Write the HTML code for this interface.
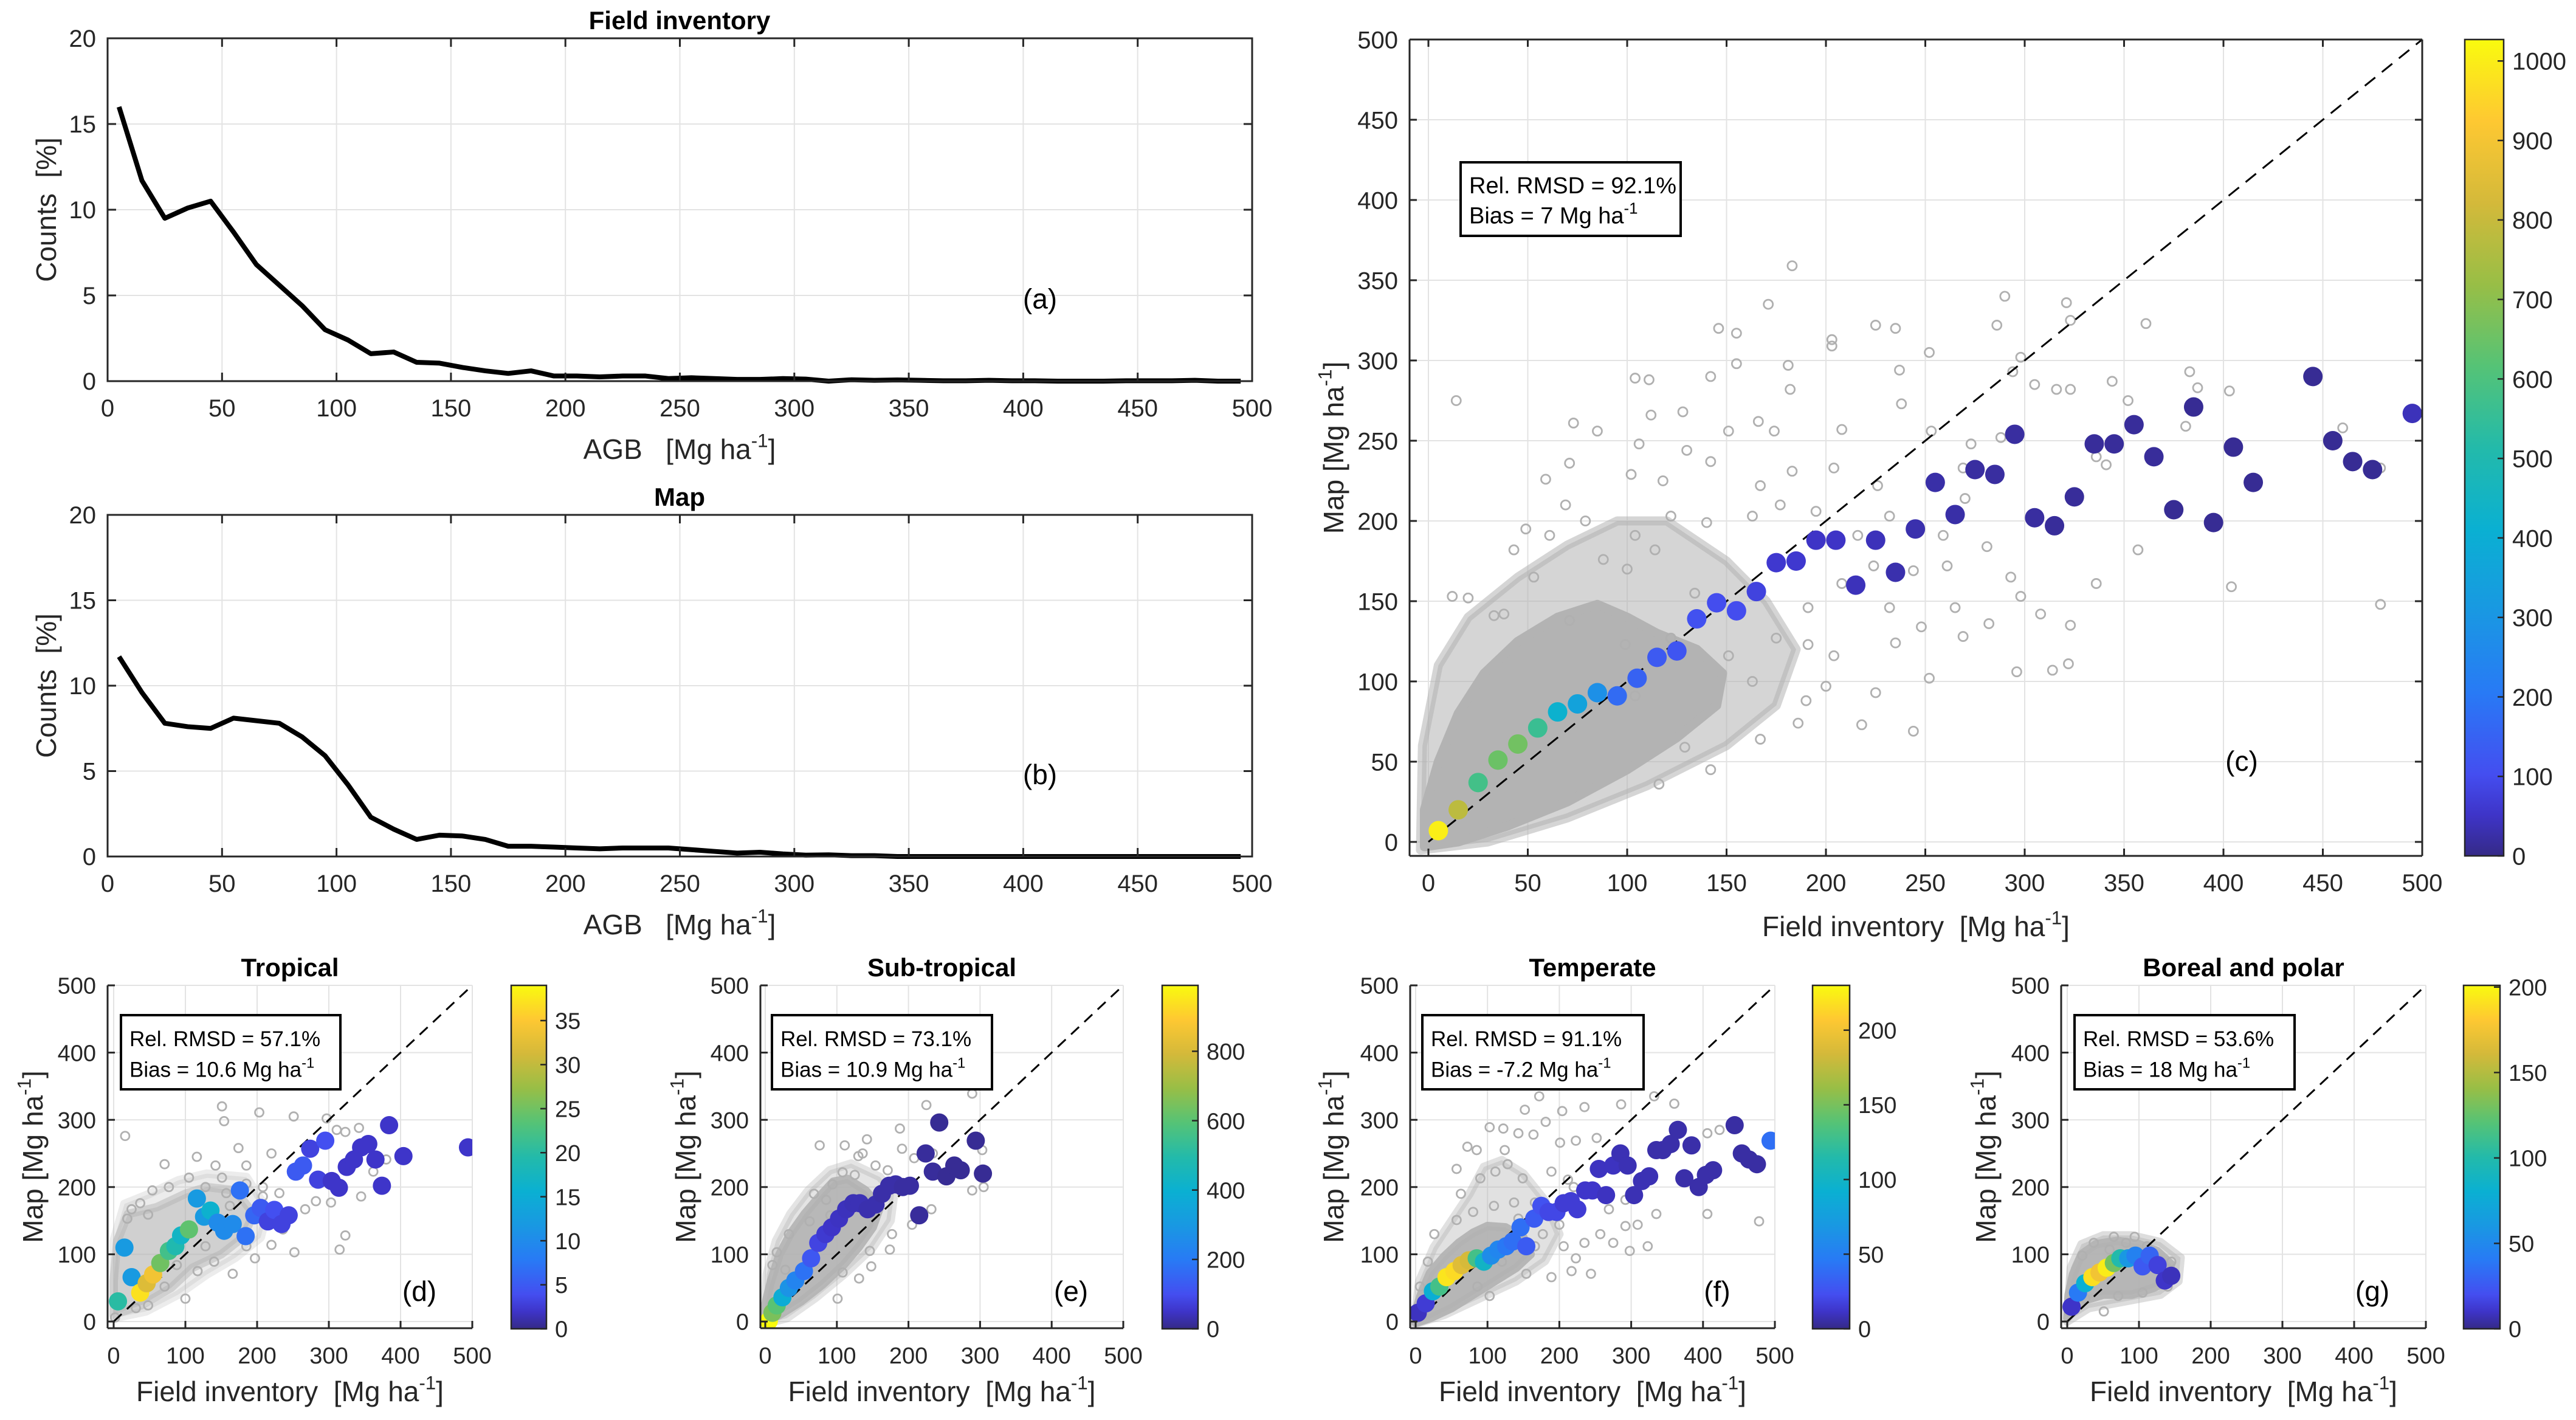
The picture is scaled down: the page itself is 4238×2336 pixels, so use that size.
<!DOCTYPE html>
<html><head><meta charset="utf-8"><title>AGB comparison</title>
<style>
html,body{margin:0;padding:0;background:#fff;}
svg{display:block;font-family:"Liberation Sans",sans-serif;}
</style></head>
<body>
<svg id="chart" xmlns="http://www.w3.org/2000/svg" width="4238" height="2336" viewBox="0 0 4238 2336"></svg>
<script>
// ---------- data ----------
const histBins = [5,15,25,35,45,55,65,75,85,95,105,115,125,135,145,155,165,175,185,195,205,215,225,235,245,255,265,275,285,295,305,315,325,335,345,355,365,375,385,395,405,415,425,435,445,455,465,475,485,495];
const histField = [16,11.7,9.5,10.1,10.5,8.7,6.8,5.6,4.4,3.0,2.4,1.6,1.7,1.1,1.05,0.8,0.6,0.45,0.6,0.3,0.3,0.25,0.3,0.3,0.15,0.2,0.15,0.1,0.1,0.15,0.12,0,0.08,0.05,0.07,0.05,0.02,0.02,0.05,0.02,0.02,0,0,0,0.02,0.02,0.02,0.05,0,0];
const histMap = [11.7,9.6,7.8,7.6,7.5,8.1,7.95,7.8,7.0,5.9,4.2,2.3,1.6,1.0,1.25,1.2,1.0,0.6,0.6,0.55,0.5,0.45,0.5,0.5,0.5,0.4,0.3,0.2,0.25,0.15,0.08,0.1,0.05,0.05,0,0,0,0,0,0,0,0,0,0,0,0,0,0,0,0];
const histYTicks = [0,5,10,15,20];
const histXTicks = [0,50,100,150,200,250,300,350,400,450,500];

const cX = [5,15,25,35,45,55,65,75,85,95,105,115,125,135,145,155,165,175,185,195,205,215,225,235,245,255,265,275,285,295,305,315,325,335,345,355,365,375,385,395,405,415,445,455,465,475,495];
const cY = [7,20,37,51,61,71,81,86,93,91,102,115,119,139,149,144,156,174,175,188,188,160,188,168,195,224,204,232,229,254,202,197,215,248,248,260,240,207,271,199,246,224,290,250,237,232,267];
const cN = [1000,780,580,650,660,560,420,350,280,170,150,130,120,110,100,100,80,60,60,50,50,40,40,30,30,25,25,20,20,20,20,15,15,15,15,15,15,10,10,10,10,10,10,10,10,10,40];
const cCloud = [183,359,171,335,290,340,321,336,323,325,286,322,225,322,235,320,361,323,146,320,155,317,203,313,203,309,252,305,298,302,155,298,181,297,142,290,104,289,111,288,14,275,383,293,294,293,182,282,237,294,238,273,305,285,316,282,323,282,344,287,352,275,387,283,403,281,460,258,381,259,59,226,73,261,85,256,71,236,112,266,128,268,151,256,166,262,174,256,208,257,253,256,269,233,273,248,288,252,336,240,341,235,405,247,479,233,404,159,479,148,357,182,336,161,323,135,322,111,314,107,308,142,296,106,298,153,282,136,269,128,252,102,244,69,235,124,225,93,218,73,200,97,190,88,186,74,167,64,142,45,129,59,116,36,106,100,33,141,12,153,20,152,38,142,71,138,99,123,104,91,163,100,151,116,122,127,134,155,114,182,100,170,88,176,53,165,79,200,104,191,122,203,140,199,163,203,177,210,195,206,216,191,232,203,244,195,259,191,270,214,226,222,204,233,183,231,167,222,142,237,130,244,102,229,106,248,118,225,69,210,49,195,43,182,61,191,175,127,191,146,208,161,224,172,244,169,261,172,281,184,293,165,232,146,204,116,265,146,248,134,191,123];
const cDense = [-2,-3,15,0,40,10,70,25,100,45,125,65,145,85,148,105,135,120,115,130,100,140,85,148,65,140,45,125,28,105,15,80,5,50,-2,20];
const cMid = [-4,-5,30,0,70,15,110,35,150,60,175,85,185,120,170,150,150,175,120,200,95,200,70,185,45,165,20,140,5,110,-3,60];

const dX = [6,15,25,37,46,55,65,77,86,94,105,116,126,135,145,154,166,176,184,196,205,215,224,234,244,254,264,274,285,295,304,314,325,335,345,355,365,374,384,404,494];
const dY = [30,110,66,43,57,70,87,105,112,128,137,183,156,165,147,135,145,195,127,158,169,149,166,145,158,223,232,257,211,269,209,199,230,241,259,264,241,202,292,246,259];
const dN = [20,12,12,37,32,34,25,22,19,17,24,12,12,16,10,10,10,7,7,6,5,3,4,3,3,5,5,3,3,4,2,2,2,2,2,2,2,2,2,2,2];
const dCloud = [151,320,154,298,203,311,251,305,297,302,174,258,71,234,116,245,142,232,185,232,220,250,311,285,323,282,342,288,16,276,323,128,315,107,252,103,166,71,100,34,220,114,236,137,267,167,282,179,303,177,345,186,362,223,380,241,231,191,208,200,185,205,151,214,128,200,105,214,77,200,54,195,25,167,19,153,37,176,48,159,162,172,157,191,208,186,185,112,140,89,117,75,71,52,48,24,31,20,2,6,197,94,128,112,88,84];
const dDense = [0,10,40,25,80,50,110,80,150,100,180,125,195,160,170,195,130,200,100,190,60,170,20,160,5,120,0,60];
const dMid = [0,5,45,15,90,40,130,70,170,95,205,125,215,165,185,215,130,220,90,210,50,190,15,175,0,120];

const eX = [5,10,16,24,33,42,54,64,74,84,93,103,113,123,132,143,154,163,173,182,192,202,215,224,234,243,253,264,273,294,304];
const eY = [1,13,24,36,50,61,75,94,117,130,140,153,167,176,176,167,174,190,202,204,200,202,158,250,223,296,216,232,225,269,220];
const eN = [990,650,600,380,280,230,180,120,80,60,50,45,40,35,35,30,30,25,25,25,20,20,15,15,15,10,10,10,10,10,10];
const eCloud = [289,339,225,322,76,262,111,262,142,271,130,246,136,250,188,287,191,257,208,243,234,250,303,255,305,200,289,195,232,167,205,144,177,130,174,107,146,105,131,64,101,34,108,73,148,82,85,181,68,190,94,204,108,222,125,218,154,232,171,225,91,158,62,149,33,130,16,103,10,84,28,77];
const eDense = [0,-2,20,10,50,30,80,55,110,85,130,110,150,140,160,170,140,195,115,212,95,208,75,185,55,160,35,130,20,100,8,60,0,25];
const eMid = [-2,-4,30,5,70,35,110,70,150,110,175,150,180,190,160,215,120,235,90,225,60,195,35,160,15,120,2,70];

const fX = [3,14,24,33,43,54,64,74,85,95,105,115,126,135,146,154,165,175,185,196,206,216,225,236,246,255,265,275,285,295,304,315,325,335,344,355,365,374,384,394,404,414,444,454,464,475,494];
const fY = [13,27,45,52,66,75,84,91,94,89,98,107,112,119,140,112,153,172,163,163,176,179,167,195,195,227,188,232,250,232,188,209,216,255,255,264,285,213,262,200,218,225,292,250,241,234,269];
const fN = [10,15,90,130,220,215,190,185,130,100,60,55,45,40,40,30,30,25,20,20,15,15,15,12,12,10,10,10,8,8,8,8,8,6,6,6,6,6,6,6,6,6,5,5,5,5,40];
const fCloud = [172,335,152,315,204,313,235,319,286,323,332,335,360,324,103,289,122,287,143,280,164,278,181,297,201,266,223,269,252,273,72,260,85,255,124,255,128,234,111,223,90,213,63,190,57,227,149,213,189,223,212,211,220,200,269,167,292,181,335,160,292,142,309,144,323,112,298,105,223,94,217,75,244,71,189,66,154,71,86,52,103,38,406,160,478,149,423,285,406,280,26,130,17,89,6,52,57,151,80,163,109,172,137,177,166,177,143,153,177,130,200,144,166,112,206,112,120,89,235,117,257,130,275,117];
const fDense = [0,-2,20,5,50,20,80,40,110,60,140,80,160,100,150,125,125,140,100,142,80,132,60,117,40,97,20,72,8,42,0,15];
const fMid = [-2,-4,40,10,90,35,140,60,180,90,200,130,180,180,150,220,120,240,95,230,75,190,50,150,25,110,5,60];

const gX = [6,15,25,35,45,55,65,74,85,95,105,115,126,136,145];
const gY = [22,43,57,66,73,80,87,94,94,98,82,98,84,61,68];
const gN = [10,40,80,190,175,195,130,100,60,45,25,30,15,10,8];
const gCloud = [94,126,65,126,37,117,21,98,51,15,128,89,145,89,111,112,140,52,105,43,71,38,25,34,2,15,59,107,82,117];
const gDense = [0,5,20,30,50,40,90,40,120,50,140,60,145,85,125,105,100,115,70,120,40,115,20,100,8,70,2,40];
const gMid = [0,0,30,20,80,30,130,40,155,60,158,95,130,118,90,128,50,128,20,115,5,80];

const cTicks = [0,100,200,300,400,500,600,700,800,900,1000];
const dTicks = [0,5,10,15,20,25,30,35];
const eTicks = [0,200,400,600,800];
const fTicks = [0,50,100,150,200];
const gTicks = [0,50,100,150,200];

// ---------- helpers ----------
const NS = 'http://www.w3.org/2000/svg';
const svg = document.getElementById('chart');
const SP = '\u00a0';
function el(tag, attrs, parent){ const e=document.createElementNS(NS,tag); for(const k in attrs) e.setAttribute(k,attrs[k]); (parent||svg).appendChild(e); return e; }
function txt(str, attrs, parent){ const e=el('text',attrs,parent); e.textContent=str; return e; }
function lin(d0,d1,p0,p1){ return v => p0 + (v-d0)*(p1-p0)/(d1-d0); }
const PAR = [[0,53,42,135],[0.05,62,52,200],[0.10,68,78,240],[0.20,40,122,245],[0.30,25,152,226],[0.40,10,176,210],[0.50,35,186,170],[0.60,85,195,118],[0.70,152,190,70],[0.80,212,185,58],[0.90,254,200,50],[1.0,249,251,14]];
function cmap(t){ t=Math.max(0,Math.min(1,t)); for(let i=1;i<PAR.length;i++){ if(t<=PAR[i][0]){ const a=PAR[i-1],b=PAR[i],f=(t-a[0])/(b[0]-a[0]); return 'rgb('+[1,2,3].map(k=>Math.round(a[k]+(b[k]-a[k])*f)).join(',')+')'; } } return 'rgb(249,251,14)'; }
const AX='#262626', GRID='#e3e3e3';
function unitLabel(g, pre, x, y, size, anchor, rot){
  const t = el('text',{x:x,y:y,'font-size':size,'text-anchor':anchor||'middle',fill:AX},g);
  if(rot) t.setAttribute('transform','rotate(-90 '+x+' '+y+')');
  const a=el('tspan',{},t); a.textContent=pre;
  const s=el('tspan',{dy:-size*0.42,'font-size':size*0.68},t); s.textContent='-1';
  const c=el('tspan',{dy:size*0.42},t); c.textContent=']';
  return t;
}

// ---------- histogram panels ----------
function histPanel(name, vals, y0px, y20px, title, letter){
  const g = el('g',{});
  
  
  const sx = lin(0,500,177,2060), sy = lin(0,20,y0px,y20px);
  const grid = el('g',{},g);
  
  
  histXTicks.forEach(v=>{ el('line',{x1:sx(v),x2:sx(v),y1:y20px,y2:y0px,stroke:GRID,'stroke-width':2},grid); });
  histYTicks.forEach(v=>{ el('line',{x1:177,x2:2060,y1:sy(v),y2:sy(v),stroke:GRID,'stroke-width':2},grid); });
  const pts = histBins.map((b,i)=>sx(b)+','+sy(vals[i])).join(' ');
  const line = el('polyline',{points:pts,fill:'none',stroke:'#000','stroke-width':8,'stroke-linejoin':'round'},g);
  
  
  el('rect',{x:177,y:y20px,width:2060-177,height:y0px-y20px,fill:'none',stroke:AX,'stroke-width':3},g);
  histXTicks.forEach(v=>{
    el('line',{x1:sx(v),x2:sx(v),y1:y0px,y2:y0px-14,stroke:AX,'stroke-width':3},g);
    el('line',{x1:sx(v),x2:sx(v),y1:y20px,y2:y20px+14,stroke:AX,'stroke-width':3},g);
    const t=txt(String(v),{x:sx(v),y:y0px+58,'font-size':40,'text-anchor':'middle',fill:AX},g);
    
    
  });
  histYTicks.forEach(v=>{
    el('line',{x1:177,x2:191,y1:sy(v),y2:sy(v),stroke:AX,'stroke-width':3},g);
    el('line',{x1:2060,x2:2046,y1:sy(v),y2:sy(v),stroke:AX,'stroke-width':3},g);
    const t=txt(String(v),{x:158,y:sy(v)+14,'font-size':40,'text-anchor':'end',fill:AX},g);
    
    
  });
  const tt=txt(title,{x:1118,y:y20px-15,'font-size':42,'font-weight':'bold','text-anchor':'middle',fill:'#000'},g);
  
  
  const xl=unitLabel(g,'AGB'+SP+SP+SP+'[Mg ha',1118,y0px+128,46,'middle');
  
  
  const yc=(y0px+y20px)/2;
  const yl=txt('Counts'+SP+SP+'[%]',{x:92,y:yc,'font-size':46,'text-anchor':'middle',fill:AX,transform:'rotate(-90 92 '+yc+')'},g);
  
  
  const lt=txt(letter,{x:1711,y:sy(4.3)+2,'font-size':46,'text-anchor':'middle',fill:'#000'},g);
  
  
}
histPanel('histogram-field-inventory', histField, 627, 63, 'Field inventory', '(a)');
histPanel('histogram-map', histMap, 1409, 847, 'Map', '(b)');

// ---------- scatter panels ----------
function polyPts(arr, sx, sy){ const p=[]; for(let i=0;i<arr.length;i+=2) p.push(sx(arr[i])+','+sy(arr[i+1])); return p.join(' '); }
function scatterPanel(cfg){
  const g = el('g',{});
  
  
  const sx = lin(0,500,cfg.x0,cfg.x500), sy = lin(0,500,cfg.y0,cfg.y500);
  const L=cfg.left, R=cfg.x500, T=cfg.y500, B=cfg.bottom;
  const cid='clip-'+cfg.name;
  const cp=el('clipPath',{id:cid},g); el('rect',{x:L,y:T,width:R-L,height:B-T},cp);
  const grid = el('g',{},g);
  
  
  cfg.ticks.forEach(v=>{
    el('line',{x1:sx(v),x2:sx(v),y1:T,y2:B,stroke:GRID,'stroke-width':2},grid);
    el('line',{x1:L,x2:R,y1:sy(v),y2:sy(v),stroke:GRID,'stroke-width':2},grid);
  });
  const plot = el('g',{'clip-path':'url(#'+cid+')'},g);
  const mid=el('polygon',{points:polyPts(cfg.mid,sx,sy),fill:'#b3b3b3','fill-opacity':cfg.midOp,stroke:'#b3b3b3','stroke-width':cfg.gr*2,'stroke-linejoin':'round','stroke-opacity':cfg.midOp},plot);
  
  
  const poly=el('polygon',{points:polyPts(cfg.dense,sx,sy),fill:'#b3b3b3','fill-opacity':cfg.denseOp,stroke:'#b3b3b3','stroke-width':cfg.gr*2,'stroke-linejoin':'round','stroke-opacity':cfg.denseOp},plot);
  
  
  for(let i=0;i<cfg.cloud.length;i+=2){
    const c=el('circle',{cx:sx(cfg.cloud[i]),cy:sy(cfg.cloud[i+1]),r:cfg.gr,fill:'none',stroke:'#b0b0b0','stroke-width':2.8},plot);
    
    
  }
  const dl=el('line',{x1:sx(0),y1:sy(0),x2:sx(500),y2:sy(500),stroke:'#000','stroke-width':3,'stroke-dasharray':cfg.dash},plot);
  
  
  cfg.mx.forEach((x,i)=>{
    const c=el('circle',{cx:sx(x),cy:sy(cfg.my[i]),r:cfg.r,fill:cmap(cfg.mn[i]/cfg.cmax)},plot);
    
    
  });
  el('line',{x1:L,x2:R,y1:B,y2:B,stroke:AX,'stroke-width':3},g);
  el('line',{x1:L,x2:L,y1:T,y2:B,stroke:AX,'stroke-width':3},g);
  if(cfg.fullBox){ el('line',{x1:R,x2:R,y1:T,y2:B,stroke:AX,'stroke-width':3},g); el('line',{x1:L,x2:R,y1:T,y2:T,stroke:AX,'stroke-width':3},g); }
  cfg.ticks.forEach(v=>{
    el('line',{x1:sx(v),x2:sx(v),y1:B,y2:B-12,stroke:AX,'stroke-width':3},g);
    el('line',{x1:L,x2:L+12,y1:sy(v),y2:sy(v),stroke:AX,'stroke-width':3},g);
    if(cfg.fullBox){ el('line',{x1:sx(v),x2:sx(v),y1:T,y2:T+12,stroke:AX,'stroke-width':3},g); el('line',{x1:R,x2:R-12,y1:sy(v),y2:sy(v),stroke:AX,'stroke-width':3},g); }
    const tx=txt(String(v),{x:sx(v),y:B+cfg.xtOff,'font-size':cfg.fs,'text-anchor':'middle',fill:AX},g);
    
    
    const ty=txt(String(v),{x:L-19,y:sy(v)+cfg.fs*0.36,'font-size':cfg.fs,'text-anchor':'end',fill:AX},g);
    
    
  });
  const cx=(L+R)/2;
  if(cfg.title){
    const tt=txt(cfg.title,{x:cx,y:T-15,'font-size':42,'font-weight':'bold','text-anchor':'middle',fill:'#000'},g);
    
    
  }
  const xl=unitLabel(g,'Field inventory'+SP+SP+'[Mg ha',cx,cfg.xlY,46,'middle');
  
  
  const yc=(T+B)/2;
  const yl=unitLabel(g,'Map [Mg ha',cfg.ylX,yc,46,'middle',true);
  
  
  const bx=el('g',{},g);
  
  
  el('rect',{x:cfg.box[0],y:cfg.box[1],width:cfg.box[2],height:cfg.box[3],fill:'#fff',stroke:'#000','stroke-width':4},bx);
  txt(cfg.rmsd,{x:cfg.box[0]+14,y:cfg.box[1]+cfg.box[3]*0.42,'font-size':cfg.bfs,fill:'#000'},bx);
  const bt=el('text',{x:cfg.box[0]+14,y:cfg.box[1]+cfg.box[3]*0.83,'font-size':cfg.bfs,fill:'#000'},bx);
  const b1=el('tspan',{},bt); b1.textContent=cfg.bias;
  const b2=el('tspan',{dy:-cfg.bfs*0.42,'font-size':cfg.bfs*0.68},bt); b2.textContent='-1';
  const lt=txt(cfg.letter,{x:L+cfg.letterDX,y:cfg.letterY,'font-size':46,'text-anchor':'middle',fill:'#000'},g);
  
  
  const cb=el('g',{},g);
  
  
  const gid='grad-'+cfg.name;
  const lg=el('linearGradient',{id:gid,x1:0,y1:1,x2:0,y2:0},cb);
  for(let i=0;i<=20;i++){ el('stop',{offset:(i/20),'stop-color':cmap(i/20)},lg); }
  const cbT=cfg.cb[2], cbB=cfg.cb[3];
  el('rect',{x:cfg.cb[0],y:cbT,width:cfg.cb[1]-cfg.cb[0],height:cbB-cbT,fill:'url(#'+gid+')',stroke:AX,'stroke-width':2.5},cb);
  const cs=lin(0,cfg.cmax,cbB,cbT);
  cfg.cticks.forEach(v=>{
    el('line',{x1:cfg.cb[1],x2:cfg.cb[1]-10,y1:cs(v),y2:cs(v),stroke:AX,'stroke-width':2.5},cb);
    const t=txt(String(v),{x:cfg.cb[1]+14,y:cs(v)+cfg.fs*0.36,'font-size':cfg.fs,fill:AX},cb);
    
    
  });
}

scatterPanel({name:'scatter-all',x0:2350,x500:3985,left:2319,y0:1385,y500:65,bottom:1408,ticks:[0,50,100,150,200,250,300,350,400,450,500],
  cloud:cCloud,dense:cDense,denseOp:1,mid:cMid,midOp:0.55,gr:7.5,r:16,dash:'22,14',mx:cX,my:cY,mn:cN,cmax:1027,fullBox:true,fs:40,xtOff:58,title:null,
  xlY:1540,ylX:2210,box:[2403,267,362,121],rmsd:'Rel. RMSD = 92.1%',bias:'Bias = 7 Mg ha',bfs:38,letter:'(c)',letterDX:1369,letterY:1268,
  cb:[4055,4119,65,1408],cticks:cTicks});
scatterPanel({name:'scatter-tropical',x0:187,x500:777,left:177,y0:2174,y500:1621,bottom:2185,ticks:[0,100,200,300,400,500],
  cloud:dCloud,dense:dDense,denseOp:0.5,mid:dMid,midOp:0.25,gr:7,r:15,dash:'18,12',mx:dX,my:dY,mn:dN,cmax:39,fullBox:false,fs:38,xtOff:58,title:'Tropical',
  xlY:2305,ylX:70,box:[199,1670,361,122],rmsd:'Rel. RMSD = 57.1%',bias:'Bias = 10.6 Mg ha',bfs:35,letter:'(d)',letterDX:513,letterY:2140,
  cb:[841,899,1621,2186],cticks:dTicks});
scatterPanel({name:'scatter-subtropical',x0:1259,x500:1848,left:1251,y0:2174,y500:1621,bottom:2185,ticks:[0,100,200,300,400,500],
  cloud:eCloud,dense:eDense,denseOp:0.9,mid:eMid,midOp:0.35,gr:7,r:15,dash:'18,12',mx:eX,my:eY,mn:eN,cmax:990,fullBox:false,fs:38,xtOff:58,title:'Sub-tropical',
  xlY:2305,ylX:1144,box:[1270,1670,362,122],rmsd:'Rel. RMSD = 73.1%',bias:'Bias = 10.9 Mg ha',bfs:35,letter:'(e)',letterDX:511,letterY:2140,
  cb:[1912,1971,1621,2186],cticks:eTicks});
scatterPanel({name:'scatter-temperate',x0:2329,x500:2920,left:2320,y0:2174,y500:1621,bottom:2185,ticks:[0,100,200,300,400,500],
  cloud:fCloud,dense:fDense,denseOp:0.95,mid:fMid,midOp:0.4,gr:7,r:15,dash:'18,12',mx:fX,my:fY,mn:fN,cmax:230,fullBox:false,fs:38,xtOff:58,title:'Temperate',
  xlY:2305,ylX:2210,box:[2340,1670,364,122],rmsd:'Rel. RMSD = 91.1%',bias:'Bias = -7.2 Mg ha',bfs:35,letter:'(f)',letterDX:505,letterY:2140,
  cb:[2982,3043,1621,2186],cticks:fTicks});
scatterPanel({name:'scatter-boreal-polar',x0:3401,x500:3991,left:3391,y0:2174,y500:1621,bottom:2185,ticks:[0,100,200,300,400,500],
  cloud:gCloud,dense:gDense,denseOp:0.95,mid:gMid,midOp:0.45,gr:7,r:15,dash:'18,12',mx:gX,my:gY,mn:gN,cmax:201,fullBox:false,fs:38,xtOff:58,title:'Boreal and polar',
  xlY:2305,ylX:3283,box:[3413,1670,362,122],rmsd:'Rel. RMSD = 53.6%',bias:'Bias = 18 Mg ha',bfs:35,letter:'(g)',letterDX:512,letterY:2140,
  cb:[4053,4113,1621,2186],cticks:gTicks});
</script>
</body></html>
